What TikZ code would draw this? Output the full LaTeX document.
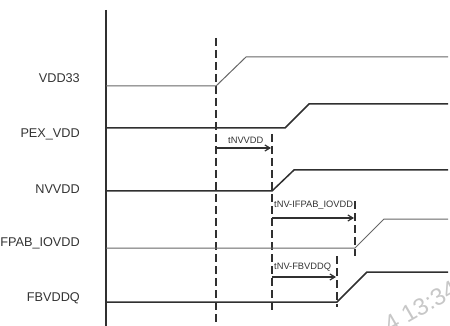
\documentclass[tikz,border=0pt]{standalone}
\usepackage{fontspec}
\setmainfont{Liberation Sans}
\usetikzlibrary{arrows.meta}
\definecolor{sig}{HTML}{303030}
\definecolor{sigl}{HTML}{666666}
\definecolor{txt}{HTML}{333333}
\begin{document}
\begin{tikzpicture}[x=1pt,y=-1pt,
  axis/.style={draw=sig,line width=2pt},
  wave/.style={draw=sig,line width=1.5pt},
  wavel/.style={draw=sigl,line width=1pt},
  guide/.style={draw=sig,line width=1.7pt,dash pattern=on 8pt off 4pt},
  timing/.style={draw=sig,line width=1.2pt,-{Straight Barb[length=5pt,width=6pt]}},
  siglabel/.style={anchor=east,text=txt,font=\fontsize{12.7}{13}\selectfont,inner sep=0pt},
  tlabel/.style={anchor=south west,text=txt,font=\fontsize{9.3}{9.5}\selectfont,inner sep=0pt},
  wmark/.style={text=black!22,font=\fontsize{24}{24}\selectfont,rotate=30,anchor=base west,inner sep=0pt}]
\useasboundingbox (0,0) rectangle (450,326);
% axis
\coordinate (axT) at (106,10);
\coordinate (axB) at (106,326);
\draw[axis] (axT) -- (axB);
% guides
\coordinate (g1T) at (216,38);  \coordinate (g1B) at (216,322);
\coordinate (g2T) at (272,134); \coordinate (g2B) at (272,310);
\coordinate (g3T) at (355,201); \coordinate (g3B) at (355,256);
\coordinate (g4T) at (337,256); \coordinate (g4B) at (337,307);
\draw[guide] (g1T) -- (g1B);
\draw[guide] (g2T) -- (g2B);
\draw[guide] (g3T) -- (g3B);
\draw[guide] (g4T) -- (g4B);
% labels
\node[siglabel] (lVDD) at (80,78) {VDD33};
\node[siglabel] (lPEX) at (80,134) {PEX\_VDD};
\node[siglabel] (lNV) at (80,189) {NVVDD};
\node[siglabel] (lIF) at (80,243) {IFPAB\_IOVDD};
\node[siglabel] (lFB) at (80,298) {FBVDDQ};
% VDD33
\coordinate (a0) at (106,86); \coordinate (a1) at (216,86);
\coordinate (a2) at (246,57); \coordinate (a3) at (448,57);
\draw[wavel] (a0) -- (a1) -- (a2) -- (a3);
% PEX_VDD
\coordinate (b0) at (106,128); \coordinate (b1) at (285,128);
\coordinate (b2) at (309,104); \coordinate (b3) at (448,104);
\draw[wave] (b0) -- (b1) -- (b2) -- (b3);
% NVVDD
\coordinate (c0) at (106,191); \coordinate (c1) at (272,191);
\coordinate (c2) at (294,170); \coordinate (c3) at (448,170);
\draw[wave] (c0) -- (c1) -- (c2) -- (c3);
% IFPAB_IOVDD
\coordinate (d0) at (106,248); \coordinate (d1) at (355,248);
\coordinate (d2) at (384,219); \coordinate (d3) at (448,219);
\draw[wavel] (d0) -- (d1) -- (d2) -- (d3);
% FBVDDQ
\coordinate (e0) at (106,302); \coordinate (e1) at (337,302);
\coordinate (e2) at (367,272); \coordinate (e3) at (448,272);
\draw[wave] (e0) -- (e1) -- (e2) -- (e3);
% timing arrows
\coordinate (t1s) at (216,148); \coordinate (t1e) at (271,148);
\draw[timing] (t1s) -- (t1e);
\node[tlabel] (n1) at (228,144) {tNVVDD};
\coordinate (t2s) at (272,218); \coordinate (t2e) at (354,218);
\draw[timing] (t2s) -- (t2e);
\node[tlabel] (n2) at (274,210) {tNV-IFPAB\_IOVDD};
\coordinate (t3s) at (272,277); \coordinate (t3e) at (336,277);
\draw[timing] (t3s) -- (t3e);
\node[tlabel] (n3) at (274,271) {tNV-FBVDDQ};
% watermark
\node[wmark] (wm) at (390,334) {4 13:34};
\end{tikzpicture}
\end{document}
